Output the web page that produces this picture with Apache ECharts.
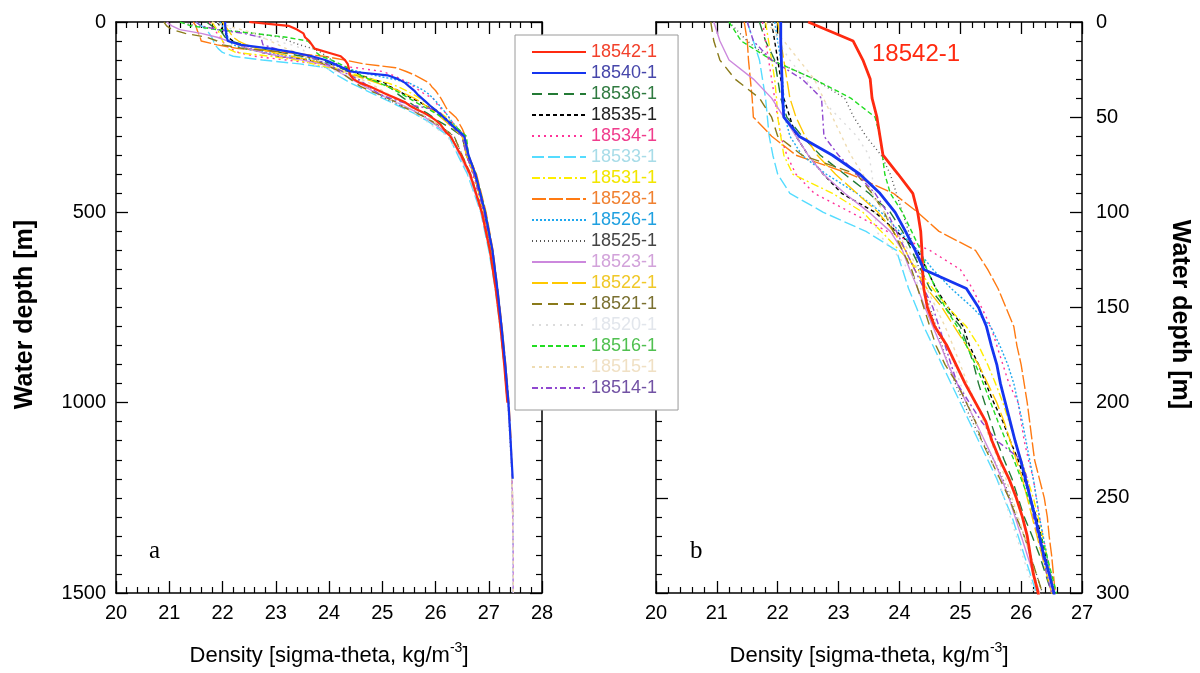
<!DOCTYPE html>
<html>
<head>
<meta charset="utf-8">
<script src="https://cdn.jsdelivr.net/npm/echarts@6/dist/echarts.min.js"></script>
<style>html,body{margin:0;padding:0;background:#fff;}#chart{width:1200px;height:673px;}</style>
</head>
<body>
<div id="chart"></div>
<script>
// Depth levels (m) at which densities were read
const depthLevels = [0,10,20,30,40,50,60,70,80,90,100,110,120,130,140,150,160,170,180,190,200,210,220,230,240,250,260,270,280,290,300,350,400,500,600,700,800,900,1000,1100,1200,1300,1400,1500];

// Density (sigma-theta) per station, in the order of depthLevels
const p18542 = [22.5,23.24,23.4,23.52,23.55,23.63,23.68,23.73,23.98,24.22,24.3,24.35,24.37,24.38,24.4,24.46,24.58,24.78,24.93,25.08,25.25,25.42,25.52,25.65,25.8,25.92,26.02,26.1,26.15,26.2,26.28,26.48,26.65,26.87,27.02,27.13,27.22,27.29,27.35];
const p18540 = [22.05,22.05,22.06,22.07,22.08,22.1,22.35,22.9,23.35,23.68,23.93,24.1,24.26,24.4,25.1,25.3,25.43,25.51,25.6,25.66,25.74,25.82,25.9,25.99,26.07,26.15,26.23,26.3,26.37,26.46,26.54,26.62,26.75,26.93,27.07,27.16,27.24,27.31,27.37,27.41,27.45];
const p18536 = [21.7,21.8,21.95,22.0,22.05,22.15,22.4,22.7,23.1,23.5,23.85,24.05,24.2,24.35,24.5,24.75,25.0,25.12,25.22,25.3,25.4,25.5,25.6,25.72,25.85,25.95,26.05,26.18,26.3,26.4,26.5,26.58,26.72,26.92,27.05,27.15,27.23,27.3,27.36];
const p18535 = [21.9,21.95,22.0,22.05,22.1,22.2,22.3,22.5,22.75,23.05,23.6,23.95,24.3,24.45,24.6,24.8,25.05,25.15,25.3,25.42,25.55,25.7,25.82,25.95,26.05,26.15,26.25,26.33,26.4,26.48,26.55,26.6,26.74,26.93,27.06,27.16,27.24,27.31,27.37];
const p18534 = [21.75,21.8,21.85,21.9,21.95,22.0,22.05,22.15,22.3,22.6,23.2,23.8,24.5,25.0,25.2,25.35,25.5,25.6,25.7,25.8,25.95,26.0,26.05,26.12,26.2,26.25,26.3,26.36,26.42,26.48,26.52,26.58,26.7,26.9,27.04,27.14,27.22];
const p18533 = [21.5,21.6,21.7,21.75,21.8,21.83,21.86,21.92,22.0,22.2,22.75,23.45,23.95,24.05,24.15,24.28,24.4,24.55,24.7,24.85,25.0,25.15,25.3,25.45,25.6,25.72,25.85,25.95,26.05,26.15,26.25,26.42,26.6,26.85,27.0,27.12,27.21,27.29];
const p18531 = [21.8,21.85,21.9,21.95,21.98,22.0,22.05,22.1,22.25,22.9,23.4,23.7,24.0,24.3,24.55,24.8,25.1,25.3,25.45,25.58,25.7,25.8,25.9,26.0,26.1,26.2,26.28,26.35,26.42,26.48,26.55,26.6,26.73,26.92,27.06,27.15,27.23,27.3,27.36];
const p18528 = [21.45,21.5,21.52,21.55,21.58,21.6,21.9,22.3,23.2,23.9,24.3,24.65,25.25,25.45,25.62,25.75,25.88,25.93,26.0,26.05,26.1,26.14,26.18,26.22,26.3,26.38,26.43,26.46,26.5,26.53,26.56,26.62,26.77,26.95,27.08,27.17,27.25,27.32,27.38,27.42,27.44,27.45];
const p18526 = [21.95,22.0,22.05,22.08,22.1,22.12,22.2,22.4,22.8,23.3,23.7,24.0,24.3,24.55,24.85,25.2,25.5,25.65,25.78,25.88,25.95,26.02,26.08,26.14,26.2,26.25,26.3,26.36,26.42,26.48,26.53,26.6,26.74,26.93,27.06,27.16,27.24,27.31,27.37,27.41,27.44,27.45,27.46,27.46];
const p18525 = [21.2,21.5,21.9,22.6,23.1,23.25,23.45,23.7,23.85,23.95,24.05,24.15,24.25,24.32,24.4,24.5,24.6,24.7,24.8,24.92,25.05,25.2,25.35,25.55,25.7,25.82,25.92,26.05,26.15,26.25,26.35,26.5,26.66,26.88,27.03,27.13,27.22,27.3,27.36,27.4,27.44];
const p18523 = [20.95,21.05,21.2,21.6,21.9,22.1,22.3,22.5,22.75,23.1,23.5,23.85,24.05,24.17,24.3,24.42,24.55,24.68,24.8,24.95,25.1,25.25,25.4,25.55,25.68,25.8,25.9,26.0,26.1,26.2,26.3,26.45,26.63,26.86,27.02,27.13,27.22,27.3,27.36,27.41,27.44,27.45,27.46,27.46];
const p18522 = [22.0,22.05,22.1,22.15,22.2,22.3,22.45,22.65,22.95,23.3,23.65,23.9,24.1,24.25,24.45,24.7,24.9,25.1,25.3,25.45,25.6,25.72,25.82,25.92,26.02,26.1,26.18,26.26,26.34,26.42,26.5,26.58,26.72,26.91,27.05,27.15,27.23,27.3];
const p18521 = [20.9,20.95,21.05,21.3,21.7,21.9,22.0,22.4,23.3,23.55,23.75,23.9,24.05,24.2,24.3,24.4,24.5,24.6,24.75,24.95,25.1,25.25,25.35,25.5,25.65,25.8,25.92,26.05,26.15,26.25,26.35,26.5,26.66,26.88,27.03,27.14,27.22,27.29,27.35];
const p18520 = [21.9,22.0,22.2,22.45,22.7,23.0,23.3,23.5,23.55,23.58,23.6,23.62,23.9,24.15,24.35,24.5,24.65,24.78,24.9,25.0,25.12,25.25,25.38,25.5,25.62,25.72,25.82,25.92,26.02,26.12,26.22,26.45,26.62,26.86,27.02,27.13,27.22,27.3,27.36,27.41,27.44,27.45,27.46,27.46];
const p18516 = [21.2,21.4,21.9,22.6,23.2,23.6,23.68,23.72,23.76,23.85,24.05,24.2,24.35,24.45,24.6,24.75,24.95,25.1,25.25,25.38,25.5,25.62,25.75,25.88,26.0,26.12,26.22,26.32,26.42,26.5,26.58,26.62,26.76,26.94,27.07,27.16,27.24,27.31,27.37];
const p18515 = [21.8,22.1,22.35,22.6,22.75,22.9,23.05,23.2,23.4,23.55,23.75,23.95,24.15,24.3,24.45,24.6,24.75,24.88,25.0,25.12,25.25,25.38,25.5,25.62,25.75,25.85,25.95,26.05,26.14,26.22,26.3,26.46,26.63,26.87,27.02,27.13,27.22,27.3,27.36,27.41,27.44,27.45,27.46,27.46];
const p18514 = [21.5,21.6,21.9,22.4,22.72,22.74,22.76,23.0,23.3,23.6,23.8,23.95,24.1,24.25,24.4,24.55,24.65,24.75,24.85,24.95,25.15,25.35,25.6,26.0,26.1,26.15,26.2,26.28,26.35,26.42,26.5,26.58,26.72,26.91,27.05,27.15,27.23,27.3,27.36];

const stationNames = ['18542-1','18540-1','18536-1','18535-1','18534-1','18533-1','18531-1','18528-1','18526-1','18525-1','18523-1','18522-1','18521-1','18520-1','18516-1','18515-1','18514-1'];
const stationData = [p18542,p18540,p18536,p18535,p18534,p18533,p18531,p18528,p18526,p18525,p18523,p18522,p18521,p18520,p18516,p18515,p18514];
const lineColors = ['#ff2a10','#1535f0','#237a35','#000000','#ff3399','#55dcff','#ffee00','#ff7a12','#1ea8ef','#555555','#cc88dd','#ffc800','#8a7a1a','#dcdcdc','#22dd22','#efdcb2','#9048d0'];
const textColors = ['#f2402a','#4646aa','#2f7a40','#222222','#f03c8c','#a8dce8','#f2e600','#f08030','#1fa0e0','#444444','#d2a2da','#f0c828','#7a7030','#e2e6ec','#50c050','#f0e0c4','#7252a4'];
const lineTypes = ['solid','solid',[10,6],[4,3],[2,4],[12,4],[8,3,2,3],[14,3],[2,2],[1,3],'solid',[16,4],[10,6],[2,5],[5,3],[3,4],[6,3,2,3]];

const xTicksLeft = [20,28];
const xTicksRight = [20,27];
const depthMaxLeft = 1500, depthMaxRight = 300;

const chart = echarts.init(document.getElementById('chart'), null, {renderer: 'canvas'});

const baseFont = 'Liberation Sans, Arial, Helvetica, sans-serif';
function xAx(grid, min, max, pos, labels) {
  return {
    type: 'value', gridIndex: grid, min: min, max: max, interval: 1, position: pos,
    axisLine: {show: true, onZero: false, lineStyle: {color: '#000', width: 1.5}},
    axisTick: {show: true, inside: true, length: 12, lineStyle: {color: '#000', width: 1.3}},
    minorTick: {show: true, splitNumber: 5, length: 6, lineStyle: {color: '#000', width: 1.2}},
    axisLabel: {show: labels, fontSize: 20, color: '#000', margin: 10, fontFamily: baseFont, formatter: v => String(v)},
    splitLine: {show: false}, minorSplitLine: {show: false},
    name: labels ? 'Density [sigma-theta, kg/m{sup|-3}]' : '',
    nameLocation: 'middle', nameGap: 48,
    nameTextStyle: {fontSize: 22, color: '#000', fontFamily: baseFont, lineHeight: 30,
      rich: {sup: {fontSize: 14, verticalAlign: 'top', lineHeight: 30, padding: [0,0,15,0], fontFamily: baseFont, color: '#000'}}}
  };
}
function yAx(grid, max, interval, minorSplit, pos, labels, nameOn) {
  return {
    type: 'value', gridIndex: grid, min: 0, max: max, interval: interval, inverse: true, position: pos,
    axisLine: {show: true, onZero: false, lineStyle: {color: '#000', width: 1.5}},
    axisTick: {show: true, inside: true, length: 12, lineStyle: {color: '#000', width: 1.3}},
    minorTick: {show: true, splitNumber: minorSplit, length: 6, lineStyle: {color: '#000', width: 1.2}},
    axisLabel: {show: labels, fontSize: 20, color: '#000', margin: pos === 'left' ? 10 : 14, fontFamily: baseFont, formatter: v => String(v)},
    splitLine: {show: false}, minorSplitLine: {show: false},
    name: nameOn ? 'Water depth [m]' : '',
    nameLocation: 'middle', nameGap: pos === 'left' ? 78 : 85, nameRotate: pos === 'left' ? 90 : -90,
    nameTextStyle: {fontSize: 25, fontWeight: 'bold', color: '#000', fontFamily: baseFont,
      padding: pos === 'left' ? [0, 14, 0, 0] : [0, 0, 0, 14]}
  };
}

const series = [];
function addSeries(xi, yi, isRight) {
  stationNames.forEach((name, i) => {
    const arr = stationData[i];
    const data = arr.map((v, k) => [v, depthLevels[k]]);
    const thick = i < 2;
    series.push({
      name: name, type: 'line', xAxisIndex: xi, yAxisIndex: yi, data: data,
      symbol: 'none', showSymbol: false, clip: true, smooth: false,
      z: thick ? 5 : 3,
      lineStyle: {color: lineColors[i], width: thick ? (isRight ? 2.8 : 2.2) : 1.4, type: lineTypes[i]},
      itemStyle: {color: lineColors[i]},
      emphasis: {disabled: true}
    });
  });
}
addSeries(0, 0, false);
addSeries(2, 2, true);

const option = {
  animation: false,
  backgroundColor: '#ffffff',
  grid: [
    {left: 116, top: 22, width: 426, height: 571, containLabel: false, outerBoundsMode: 'none'},
    {left: 656, top: 22, width: 426, height: 571, containLabel: false, outerBoundsMode: 'none'}
  ],
  xAxis: [
    xAx(0, xTicksLeft[0], xTicksLeft[1], 'bottom', true),
    xAx(0, xTicksLeft[0], xTicksLeft[1], 'top', false),
    xAx(1, xTicksRight[0], xTicksRight[1], 'bottom', true),
    xAx(1, xTicksRight[0], xTicksRight[1], 'top', false)
  ],
  yAxis: [
    yAx(0, depthMaxLeft, 500, 10, 'left', true, true),
    yAx(0, depthMaxLeft, 500, 10, 'right', false, false),
    yAx(1, depthMaxRight, 50, 5, 'right', true, true),
    yAx(1, depthMaxRight, 50, 5, 'left', false, false)
  ],
  legend: {
    orient: 'vertical', left: 515, top: 35,
    backgroundColor: '#ffffff', borderColor: '#9a9a9a', borderWidth: 1,
    padding: [8, 21, 13, 16], itemWidth: 54, itemHeight: 18, itemGap: 3,
    selectedMode: false, z: 10,
    itemStyle: {opacity: 0, color: 'rgba(0,0,0,0)', borderWidth: 0},
    textStyle: {fontSize: 18, lineHeight: 18, fontFamily: baseFont},
    data: stationNames.map((n, i) => ({name: n, textStyle: {color: textColors[i]}}))
  },
  graphic: [
    {type: 'text', left: 872, top: 42, z: 20, style: {text: '18542-1', fill: '#ff2a10', font: '24px Liberation Sans, Arial, sans-serif'}},
    {type: 'text', left: 149, top: 539, z: 20, style: {text: 'a', fill: '#000', font: '25px Liberation Serif, Times New Roman, serif'}},
    {type: 'text', left: 690, top: 539, z: 20, style: {text: 'b', fill: '#000', font: '25px Liberation Serif, Times New Roman, serif'}}
  ],
  series: series
};
chart.setOption(option);
</script>
</body>
</html>
